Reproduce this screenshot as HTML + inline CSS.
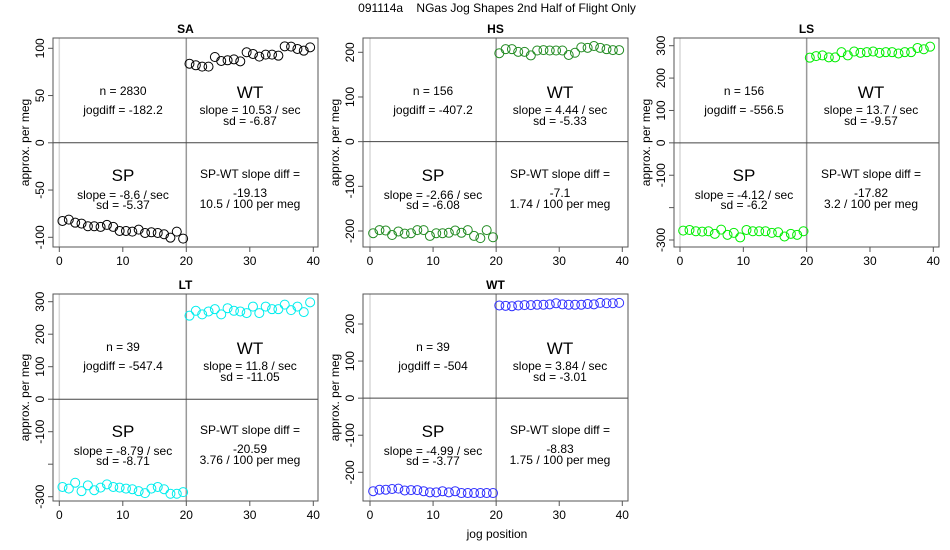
<!DOCTYPE html>
<html><head><meta charset="utf-8">
<style>
body{margin:0;background:#fff;}
svg{display:block;font-family:"Liberation Sans",sans-serif;}
</style></head>
<body>
<svg id="chart" width="950" height="550" viewBox="0 0 950 550">
<text x="497" y="12" font-size="12" text-anchor="middle" style="white-space:pre">091114a    NGas Jog Shapes 2nd Half of Flight Only</text>
<text x="497" y="538" font-size="12" text-anchor="middle">jog position</text>
</svg>
<script>
const positions = [0.5,1.5,2.5,3.5,4.5,5.5,6.5,7.5,8.5,9.5,10.5,11.5,12.5,13.5,14.5,15.5,16.5,17.5,18.5,19.5,20.5,21.5,22.5,23.5,24.5,25.5,26.5,27.5,28.5,29.5,30.5,31.5,32.5,33.5,34.5,35.5,36.5,37.5,38.5,39.5];
const xTicks = [0,10,20,30,40];
const panelNames = ["SA","HS","LS","LT","WT"];
const saValues = [-82.7,-81.3,-84.5,-85.5,-88.3,-88.3,-89,-86.9,-89,-93.3,-93.3,-94,-91.9,-95.4,-94.7,-95.4,-96.8,-100.4,-94,-101.4,83.7,82,80.6,80.6,90.8,86.6,87.3,88.3,86.2,95.8,94,91.2,93.3,93.3,92.2,102.1,101.8,99.3,97.5,101];
const hsValues = [-205,-198,-199,-209,-201,-206,-205,-198,-198,-211,-205,-205,-204,-199,-204,-198,-211,-216,-198,-214,198,207,207,201,201,193,204,205,204,204,204,194,199,211,210,214,210,207,205,205];
const lsValues = [-271,-269,-273,-274,-273,-281,-268,-284,-278,-292,-269,-273,-273,-273,-278,-276,-289,-281,-284,-273,263,268,270,264,264,280,270,282,278,280,282,278,280,280,276,280,280,293,289,297];
const ltValues = [-270,-275,-257,-283,-265,-280,-272,-262,-270,-272,-275,-277,-283,-289,-275,-270,-277,-291,-291,-286,257,272,261,270,277,261,280,272,270,265,285,265,285,277,277,291,274,285,268,298];
const wtValues = [-251,-247,-247,-245,-244,-249,-248,-248,-251,-254,-254,-251,-254,-251,-256,-256,-256,-256,-256,-256,250,249,248,250,251,251,252,252,253,256,253,252,252,252,254,253,257,256,256,257];
const saYTicks = [-100,-50,0,50,100];
const hsYTicks = [-200,-100,0,100,200];
const lsYTicks = [-300,-200,-100,0,100,200,300];
const ltYTicks = [-300,-200,-100,0,100,200,300];
const wtYTicks = [-200,-100,0,100,200];
const nLabels = ["n = 2830","n = 156","n = 156","n = 39","n = 39"];
const jogdiffLabels = ["jogdiff = -182.2","jogdiff = -407.2","jogdiff = -556.5","jogdiff = -547.4","jogdiff = -504"];
const wtSlopeLabels = ["slope = 10.53 / sec","slope = 4.44 / sec","slope = 13.7 / sec","slope = 11.8 / sec","slope = 3.84 / sec"];
const wtSdLabels = ["sd = -6.87","sd = -5.33","sd = -9.57","sd = -11.05","sd = -3.01"];
const spSlopeLabels = ["slope = -8.6 / sec","slope = -2.66 / sec","slope = -4.12 / sec","slope = -8.79 / sec","slope = -4.99 / sec"];
const spSdLabels = ["sd = -5.37","sd = -6.08","sd = -6.2","sd = -8.71","sd = -3.77"];
const diffLabels = ["-19.13","-7.1","-17.82","-20.59","-8.83"];
const perMegLabels = ["10.5 / 100 per meg","1.74 / 100 per meg","3.2 / 100 per meg","3.76 / 100 per meg","1.75 / 100 per meg"];

const svg = document.getElementById('chart');
const NS = 'http://www.w3.org/2000/svg';
function mk(tag, attrs, parent){const e=document.createElementNS(NS,tag);for(const k in attrs)e.setAttribute(k,attrs[k]);(parent||svg).appendChild(e);return e;}

const layouts = [
 {L:53,T:38,W:265,H:209,x0:59.3,x40:313.3,yA:100,pA:48.3,yB:-100,pB:237.3,color:"#000000",vals:saValues,ticks:saYTicks,unl:[]},
 {L:363,T:38,W:265,H:209,x0:370,x40:622.3,yA:200,pA:52.3,yB:-200,pB:231,color:"#228b22",vals:hsValues,ticks:hsYTicks,unl:[]},
 {L:674,T:38,W:265,H:209,x0:680,x40:933.3,yA:300,pA:45.7,yB:-300,pB:240,color:"#00ee00",vals:lsValues,ticks:lsYTicks,unl:[-200]},
 {L:53,T:294,W:265,H:207,x0:59.3,x40:313.3,yA:300,pA:301.7,yB:-300,pB:496.7,color:"#00eeee",vals:ltValues,ticks:ltYTicks,unl:[-200]},
 {L:363,T:294,W:265,H:207,x0:370,x40:622.3,yA:200,pA:324,yB:-200,pB:472.3,color:"#3030ff",vals:wtValues,ticks:wtYTicks,unl:[]}
];

layouts.forEach((p,i)=>{
  const g = mk('g',{});
  
  
  const xs = v => p.x0 + (v/40)*(p.x40-p.x0);
  const ys = v => p.pB + (v-p.yB)/(p.yA-p.yB)*(p.pA-p.pB);
  const t = mk('text',{x:p.L+p.W/2,y:p.T-5,'font-size':12,'font-weight':'bold','text-anchor':'middle'},g);
  t.textContent = panelNames[i];
  
  
  mk('line',{x1:xs(0),x2:xs(0),y1:p.T,y2:p.T+p.H,stroke:'#d8d8d8','stroke-width':1.5},g);
  mk('line',{x1:xs(20),x2:xs(20),y1:p.T,y2:p.T+p.H,stroke:'#999','stroke-width':1.5},g);
  mk('line',{x1:p.L,x2:p.L+p.W,y1:ys(0),y2:ys(0),stroke:'#444','stroke-width':1},g);
  const box = mk('rect',{x:p.L,y:p.T,width:p.W,height:p.H,fill:'none',stroke:'#555','stroke-width':1},g);
  
  
  xTicks.forEach(v=>{
    mk('line',{x1:xs(v),x2:xs(v),y1:p.T+p.H,y2:p.T+p.H+5,stroke:'#555'},g);
    const tl = mk('text',{x:xs(v),y:p.T+p.H+18,'font-size':12,'text-anchor':'middle'},g);
    tl.textContent = v;
    
    
  });
  p.ticks.forEach(v=>{
    const y = ys(v);
    mk('line',{x1:p.L-5,x2:p.L,y1:y,y2:y,stroke:'#555'},g);
    if(p.unl.indexOf(v)<0){
      const tl = mk('text',{x:p.L-9,y:y,'font-size':12,'text-anchor':'middle',transform:`rotate(-90 ${p.L-9} ${y})`},g);
      tl.textContent = v;
      
      
    }
  });
  const yl = mk('text',{x:p.L-24,y:p.T+p.H/2,'font-size':12,'text-anchor':'middle',transform:`rotate(-90 ${p.L-24} ${p.T+p.H/2})`},g);
  yl.textContent = 'approx. per meg';
  
  
  p.vals.forEach((v,j)=>{
    const c = mk('circle',{cx:xs(positions[j]),cy:ys(v),r:4.5,fill:'none',stroke:p.color,'stroke-width':1},g);
    
    
  });
  const texts = [
    [70,57,12,nLabels[i],'n-label'],
    [70,76,12,jogdiffLabels[i],'jogdiff-label'],
    [197,60,17,'WT','wt-label'],
    [197,76,12,wtSlopeLabels[i],'wt-slope-label'],
    [197,87,12,wtSdLabels[i],'wt-sd-label'],
    [70,143,17,'SP','sp-label'],
    [70,161,12,spSlopeLabels[i],'sp-slope-label'],
    [70,171,12,spSdLabels[i],'sp-sd-label'],
    [197,140,12,'SP-WT slope diff =','slope-diff-label'],
    [197,159,12,diffLabels[i],'slope-diff-value'],
    [197,170,12,perMegLabels[i],'per-meg-label']
  ];
  texts.forEach(a=>{
    const e = mk('text',{x:p.L+a[0],y:p.T+a[1],'font-size':a[2],'text-anchor':'middle'},g);
    e.textContent = a[3];
    
    
  });
});
</script>
</body></html>
